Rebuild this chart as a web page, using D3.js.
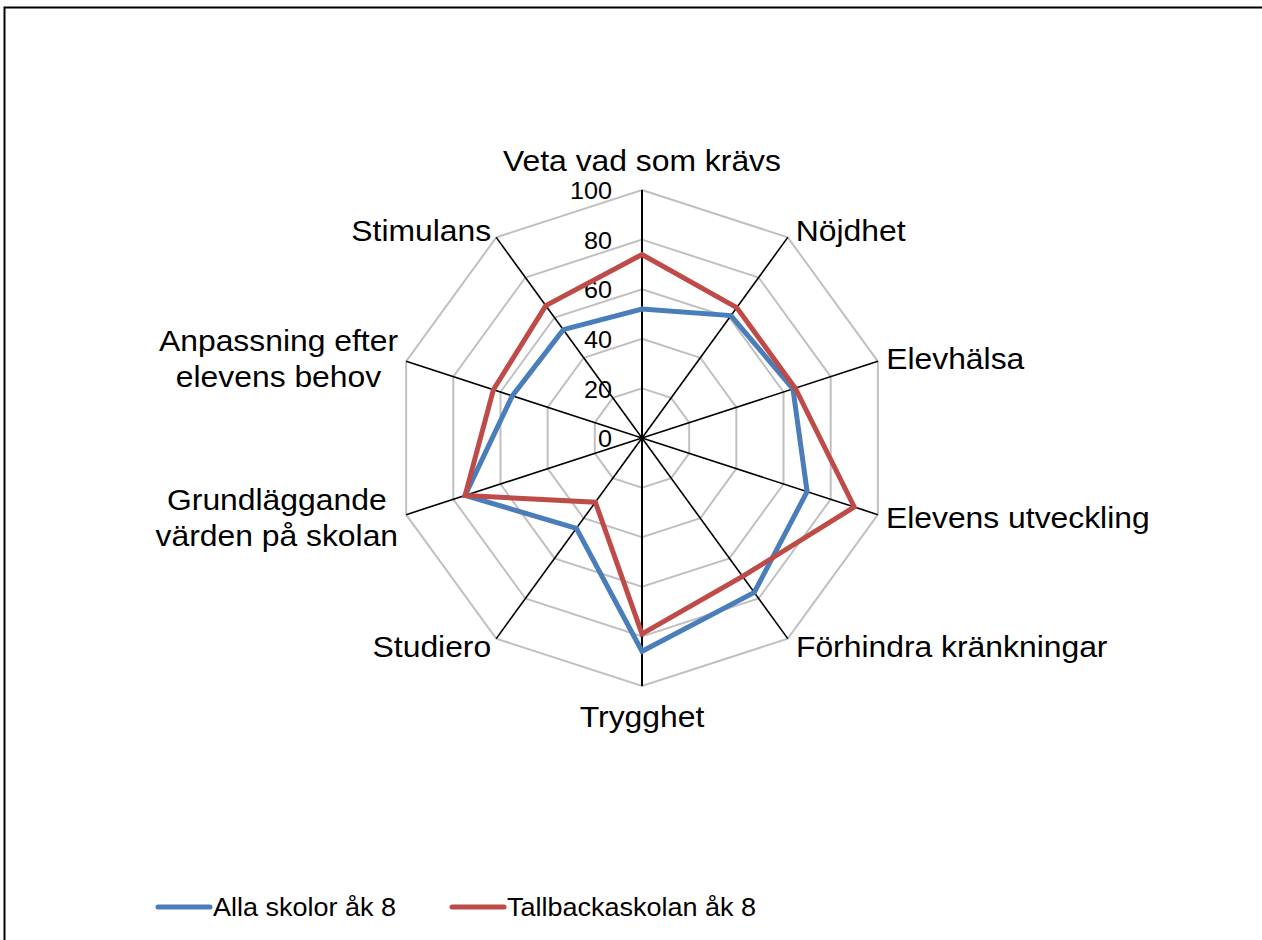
<!DOCTYPE html>
<html><head><meta charset="utf-8">
<script src="https://cdn.jsdelivr.net/npm/d3@7"></script>
<style>
html,body{margin:0;padding:0;background:#fff;}
svg{display:block;font-family:Arial,"Liberation Sans",sans-serif;}
</style></head>
<body>
<svg id="chart" width="1262" height="940"></svg>
<script>
const categories = ["Veta vad som krävs","Nöjdhet","Elevhälsa","Elevens utveckling","Förhindra kränkningar","Trygghet","Studiero","Grundläggande värden på skolan","Anpassning efter elevens behov","Stimulans"];
const categoryLines = [["Veta vad som krävs"],["Nöjdhet"],["Elevhälsa"],["Elevens utveckling"],["Förhindra kränkningar"],["Trygghet"],["Studiero"],["Grundläggande","värden på skolan"],["Anpassning efter","elevens behov"],["Stimulans"]];
const seriesNames = ["Alla skolor åk 8","Tallbackaskolan åk 8"];
const allaSkolor = [52, 61, 64, 70, 77, 86, 45, 75, 55, 54];
const tallbacka = [74, 65, 65, 90, 69, 79, 32, 75, 63, 66];
const ticks = [0, 20, 40, 60, 80, 100];
const colors = ["#4a7ebb", "#be4b48"];

const svg = d3.select("#chart");
const cx = 642, cy = 438, R = 248;
const SX = 1.08; // horizontal text stretch to match reference glyph widths

// border
svg.append("rect").attr("x", 4.5).attr("y", 7.5).attr("width", 1300).attr("height", 1000)
  .attr("fill", "none").attr("stroke", "#000").attr("stroke-width", 2);

const r = d3.scaleLinear().domain([0, 100]).range([0, R]);
const ang = d3.scaleLinear().domain([0, categories.length]).range([0, 2 * Math.PI]);
const pt = (i, v) => [cx + r(v) * Math.sin(ang(i)), cy - r(v) * Math.cos(ang(i))];

const g = svg.append("g");
// grid polygons
ticks.filter(t => t > 0).forEach(t => {
  g.append("path")
    .attr("d", d3.line()(categories.map((c, i) => pt(i, t))) + "Z")
    .attr("fill", "none").attr("stroke", "#c0c0c0").attr("stroke-width", 2);
});
// axes
categories.forEach((c, i) => {
  const [x, y] = pt(i, 100);
  g.append("line").attr("x1", cx).attr("y1", cy).attr("x2", x).attr("y2", y)
    .attr("stroke", "#000").attr("stroke-width", i === 0 || i === 5 ? 2 : 1.6);
});
// tick labels
ticks.forEach(t => {
  g.append("g").attr("transform", `translate(${cx - 30},${cy - r(t) + 1}) scale(1.05,1)`)
    .append("text").attr("text-anchor", "end").attr("dominant-baseline", "central")
    .attr("font-size", 24).attr("fill", "#000").text(t);
});

// series
const line = d3.line().curve(d3.curveLinearClosed);
[allaSkolor, tallbacka].forEach((s, k) => {
  g.append("path").attr("d", line(s.map((v, i) => pt(i, v))))
    .attr("fill", "none").attr("stroke", colors[k]).attr("stroke-width", 5)
    .attr("stroke-linejoin", "miter");
});

// category labels
const fs = 29.5, lh = 36;
categoryLines.forEach((lines, i) => {
  const a = ang(i), s = Math.sin(a), c = Math.cos(a);
  const [ex, ey] = pt(i, 100);
  let x, y;
  const vertical = Math.abs(s) < 0.01;
  if (vertical) { x = ex; y = ey - c * 30; }
  else { x = ex + (s > 0 ? 8 : (lines.length > 1 ? -8 : -5)); y = ey - c * 9; }
  const wrap = g.append("g");
  const txt = wrap.append("text").attr("font-size", fs).attr("fill", "#000")
    .attr("text-anchor", "middle");
  lines.forEach((l, j) => {
    txt.append("tspan").attr("x", 0)
      .attr("dy", j === 0 ? 0 : lh).text(l);
  });
  const bb = txt.node().getBBox();
  const w = bb.width * SX, h = lines.length * lh;
  let tx;
  if (vertical) tx = x;
  else if (s > 0) tx = x + w / 2;
  else tx = x - w / 2;
  const ty = y - h / 2 + lh / 2 + fs * 0.36;
  wrap.attr("transform", `translate(${tx},${ty}) scale(${SX},1)`);
});

// legend
const lg = svg.append("g");
const legendX = [158, 452];
seriesNames.forEach((n, k) => {
  lg.append("line").attr("x1", legendX[k]).attr("x2", legendX[k] + 52)
    .attr("y1", 907).attr("y2", 907).attr("stroke", colors[k]).attr("stroke-width", 5)
    .attr("stroke-linecap", "round");
  lg.append("g").attr("transform", `translate(${legendX[k] + 55},907) scale(${SX},1)`)
    .append("text").attr("dominant-baseline", "central").attr("font-size", 25).text(n);
});
</script>
</body></html>
